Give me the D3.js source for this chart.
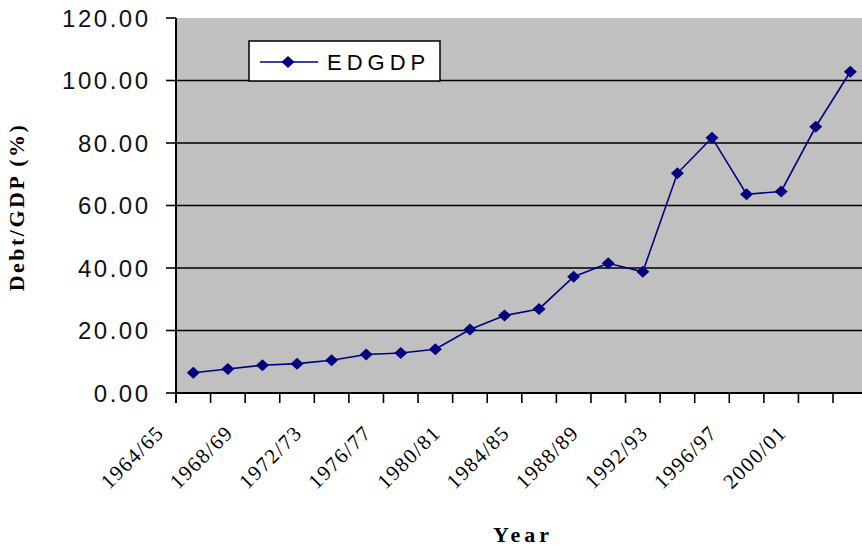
<!DOCTYPE html>
<html>
<head>
<meta charset="utf-8">
<script src="https://cdn.jsdelivr.net/npm/d3@7"></script>
<style>
  body { margin: 0; background: #fff; }
  svg { display: block; }
</style>
</head>
<body>
<svg width="862" height="546"></svg>
<script>
// data
var years = ["1964/65","1966/67","1968/69","1970/71","1972/73","1974/75","1976/77","1978/79",
             "1980/81","1982/83","1984/85","1986/87","1988/89","1990/91","1992/93","1994/95",
             "1996/97","1998/99","2000/01","2002/03"];
var edgdp = [6.5, 7.7, 8.9, 9.4, 10.5, 12.3, 12.8, 14.0, 20.3, 24.8,
             26.9, 37.2, 41.5, 38.8, 70.3, 81.7, 63.6, 64.5, 85.2, 102.8];
var yTicks = [0, 20, 40, 60, 80, 100, 120];
var seriesName = "EDGDP";

var svg = d3.select('svg');
var plotLeft = 176, plotRight = 867.6, plotTop = 18, plotBottom = 393;

var x = d3.scaleBand().domain(years).range([plotLeft, plotRight]).padding(0);
var y = d3.scaleLinear().domain([0, 120]).range([plotBottom, plotTop]);
var cx = function(d) { return x(d) + x.bandwidth() / 2; };

// plot area
svg.append('rect')
   .attr('x', plotLeft).attr('y', plotTop)
   .attr('width', plotRight - plotLeft).attr('height', plotBottom - plotTop)
   .style('fill', '#c0c0c0');

// gridlines
svg.append('g').selectAll('line')
   .data(yTicks.filter(function(v) { return v > 0 && v < 120; }))
   .enter().append('line')
   .attr('x1', plotLeft).attr('x2', plotRight)
   .attr('y1', function(d) { return y(d); })
   .attr('y2', function(d) { return y(d); })
   .style('stroke', '#000').style('stroke-width', 1.6);

// y axis
var yAxis = svg.append('g');
yAxis.append('line')
     .attr('x1', plotLeft).attr('x2', plotLeft).attr('y1', plotTop).attr('y2', plotBottom + 10)
     .style('stroke', '#000').style('stroke-width', 2);
yAxis.selectAll('line.tick').data(yTicks).enter().append('line')
     .attr('class', 'tick')
     .attr('x1', plotLeft - 10).attr('x2', plotLeft)
     .attr('y1', function(d) { return y(d); })
     .attr('y2', function(d) { return y(d); })
     .style('stroke', '#000').style('stroke-width', 1.6);
yAxis.selectAll('text').data(yTicks).enter().append('text')
     .attr('x', 150.5)
     .attr('y', function(d) { return y(d); })
     .attr('dy', '0.36em')
     .attr('text-anchor', 'end')
     .style('font-family', '"Liberation Sans", Arial, sans-serif')
     .style('font-size', '24px')
     .style('letter-spacing', '2.5px')
     .style('fill', '#111')
     .text(function(d) { return d3.format('.2f')(d); });

// x axis
var xAxis = svg.append('g');
xAxis.append('line')
     .attr('x1', plotLeft).attr('x2', plotRight).attr('y1', plotBottom).attr('y2', plotBottom)
     .style('stroke', '#000').style('stroke-width', 2);
xAxis.selectAll('line.tick').data(years.concat(['end'])).enter().append('line')
     .attr('class', 'tick')
     .attr('x1', function(d) { return d === 'end' ? plotRight : x(d); })
     .attr('x2', function(d) { return d === 'end' ? plotRight : x(d); })
     .attr('y1', plotBottom).attr('y2', plotBottom + 10)
     .style('stroke', '#000').style('stroke-width', 1.6);
xAxis.selectAll('text').data(years.filter(function(d, i) { return i % 2 === 0; }))
     .enter().append('text')
     .attr('text-anchor', 'end')
     .attr('transform', function(d) { return 'translate(' + (cx(d) - 28) + ',434) rotate(-45)'; })
     .style('font-family', '"Liberation Serif", "Times New Roman", serif')
     .style('font-size', '21px')
     .style('letter-spacing', '1.5px')
     .text(function(d) { return d; });

// series line + markers
var line = d3.line().x(function(d, i) { return cx(years[i]); }).y(function(d) { return y(d); });
svg.append('path')
   .datum(edgdp)
   .attr('d', line)
   .style('fill', 'none').style('stroke', '#000080').style('stroke-width', 1.6);
var diamond = 'M0,-6L6.5,0L0,6L-6.5,0Z';
svg.append('g').selectAll('path')
   .data(edgdp).enter().append('path')
   .attr('d', diamond)
   .attr('transform', function(d, i) { return 'translate(' + cx(years[i]) + ',' + y(d) + ')'; })
   .style('fill', '#000080');

// legend
var legend = svg.append('g');
legend.append('rect')
      .attr('x', 249).attr('y', 41).attr('width', 191).attr('height', 40)
      .style('fill', '#fff').style('stroke', '#000').style('stroke-width', 1.5);
legend.append('line')
      .attr('x1', 260).attr('x2', 318).attr('y1', 62).attr('y2', 62)
      .style('stroke', '#000080').style('stroke-width', 1.6);
legend.append('path')
      .attr('d', diamond)
      .attr('transform', 'translate(288,62)')
      .style('fill', '#000080');
legend.append('text')
      .attr('x', 327).attr('y', 70)
      .style('font-family', '"Liberation Sans", Arial, sans-serif')
      .style('font-size', '22px')
      .style('letter-spacing', '5px')
      .text(seriesName);

// axis titles
svg.append('text')
   .attr('text-anchor', 'middle')
   .attr('transform', 'translate(24,207) rotate(-90)')
   .style('font-family', '"Liberation Serif", "Times New Roman", serif')
   .style('font-size', '22px').style('font-weight', 'bold')
   .style('letter-spacing', '2.5px')
   .text('Debt/GDP (%)');
svg.append('text')
   .attr('x', 523).attr('y', 542)
   .attr('text-anchor', 'middle')
   .style('font-family', '"Liberation Serif", "Times New Roman", serif')
   .style('font-size', '22px').style('font-weight', 'bold')
   .style('letter-spacing', '4px')
   .text('Year');
</script>
</body>
</html>
